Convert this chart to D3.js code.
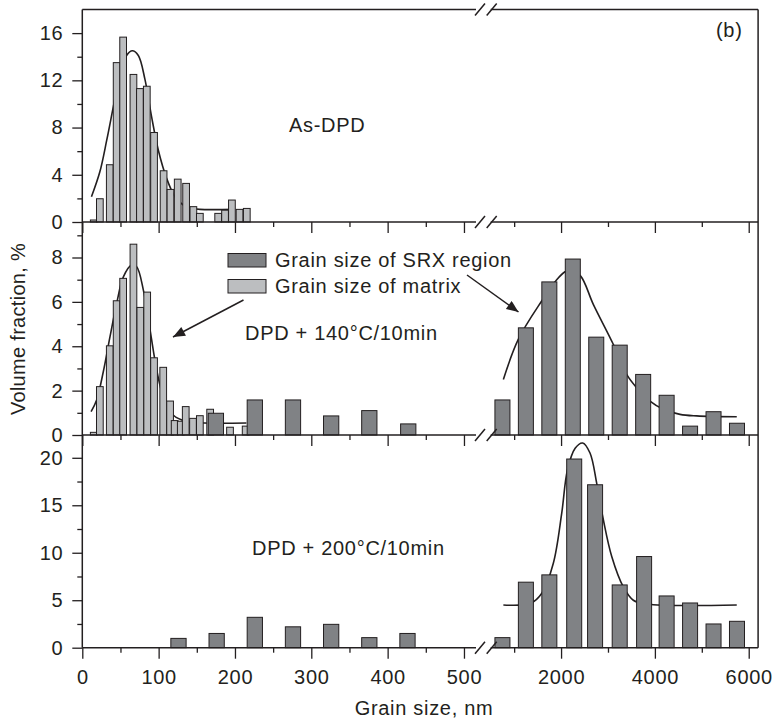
<!DOCTYPE html>
<html>
<head>
<meta charset="utf-8">
<script src="https://cdnjs.cloudflare.com/ajax/libs/d3/7.8.5/d3.min.js"></script>
<style>
	body { margin: 0; background: #fff; }
	svg text { font-family: "Liberation Sans", Arial, Helvetica, sans-serif; fill: #231f20; font-size: 20px; letter-spacing: 0.7px; }
	.axis path { display: none; }
	.axis line { stroke: #231f20; stroke-width: 1.3px; }
	.frame { stroke: #231f20; stroke-width: 1.5px; fill: none; }
	.fit { stroke: #231f20; stroke-width: 1.6px; fill: none; }
	.matrix { fill: #bcbec0; stroke: #231f20; stroke-width: 1px; }
	.srx { fill: #808285; stroke: #231f20; stroke-width: 1px; }
</style>
</head>
<body>
<script>

// ---- data ----

// x tick labels (broken axis)
var xTicksLeft = [0, 100, 200, 300, 400, 500];
var xMinorLeft = [50, 150, 250, 350, 450];
var xTicksRight = [2000, 4000, 6000];
var xMinorRight = [1000, 3000, 5000];

// As-DPD : matrix grains
var asMatrixSize = [15, 23, 36, 45, 53.5, 67, 75.5, 84.5, 94, 106.5, 115.5, 125, 136, 145.5, 154, 178, 187, 196, 206, 215.5];
var asMatrixFrac = [0.17, 1.97, 4.85, 13.5, 15.66, 12.5, 11.3, 11.5, 7.58, 4.34, 2.76, 3.63, 3.27, 1.3, 0.73, 0.73, 1.0, 1.86, 1.07, 1.15];
var asFitSize = [12, 23, 32, 40.6, 49.3, 58, 65.5, 73.4, 82, 90.8, 99.6, 110.5, 121.4, 132.3, 145.4, 154, 200];
var asFitFrac = [2.14, 4.25, 6.93, 9.75, 12.56, 14.1, 14.5, 14.1, 12.1, 8.9, 6.08, 3.69, 2.14, 1.44, 1.15, 1.07, 1.07];

// DPD + 140C/10min
var d140MatrixSize = [15, 23, 36, 45, 53.5, 67, 76, 85, 94, 106, 115, 121, 129, 135.5, 145, 154, 167.5, 193.5, 214];
var d140MatrixFrac = [0.12, 2.18, 4.02, 6.05, 7.06, 8.6, 5.75, 6.44, 3.48, 3.05, 1.53, 0.65, 0.62, 1.28, 0.75, 0.87, 1.16, 0.35, 0.4];
var d140SrxSizeL = [175, 226, 276, 326, 376, 427];
var d140SrxFracL = [0.98, 1.58, 1.58, 0.86, 1.1, 0.5];
var d140SrxSizeR = [750, 1250, 1750, 2250, 2750, 3250, 3750, 4250, 4750, 5250, 5750];
var d140SrxFracR = [1.58, 4.83, 6.9, 7.93, 4.41, 4.05, 2.73, 1.79, 0.4, 1.05, 0.53];
var d140FitSizeL = [11.5, 18.8, 27.5, 36.3, 45, 53.8, 64.7, 71.2, 80, 88.8, 97.5, 106, 119, 137, 160, 215];
var d140FitFracL = [1.05, 1.58, 2.85, 4.43, 5.93, 7.13, 7.66, 7.58, 6.53, 4.73, 2.93, 1.73, 0.9, 0.6, 0.54, 0.54];
var d140FitSizeR = [770, 1088, 1587, 1907, 2083, 2200, 2418, 2687, 3113, 3398, 3611, 3895, 4180, 4535, 4890, 5745];
var d140FitFracR = [2.5, 4.31, 6.04, 7.0, 7.36, 7.45, 7.16, 5.89, 4.09, 2.73, 2.13, 1.53, 1.16, 0.93, 0.86, 0.82];

// DPD + 200C/10min
var d200SrxSizeL = [126, 176, 226, 276, 326, 376, 426];
var d200SrxFracL = [0.98, 1.5, 3.2, 2.2, 2.46, 1.06, 1.5];
var d200SrxSizeR = [750, 1250, 1750, 2280, 2725, 3250, 3770, 4250, 4750, 5250, 5750];
var d200SrxFracR = [1.06, 6.9, 7.67, 19.87, 17.16, 6.61, 9.6, 5.45, 4.71, 2.5, 2.78];
var d200FitSizeR = [770, 1350, 1590, 1835, 2015, 2135, 2300, 2460, 2617, 2760, 2900, 3080, 3327, 3540, 3826, 5745];
var d200FitFracR = [4.5, 4.68, 5.74, 8.9, 14.2, 18.7, 21.0, 21.56, 20.5, 17.3, 13.5, 9.6, 6.4, 5.0, 4.6, 4.5];

// bin widths in nm as drawn
var matrixBin = 8.8, srxBinL = 20, srxBinR = 320;

function pairs(xs, ys) {
	return xs.map(function(v, i) { return [v, ys[i]]; });
}

// ---- layout ----
var W = 778, H = 721;
var svg = d3.select("body").append("svg")
	.attr("width", W)
	.attr("height", H);

svg.append("defs").append("marker")
	.attr("id", "head")
	.attr("markerUnits", "userSpaceOnUse")
	.attr("viewBox", "0 0 12 10")
	.attr("refX", 12).attr("refY", 5)
	.attr("markerWidth", 13).attr("markerHeight", 10)
	.attr("orient", "auto")
	.append("path")
	.attr("d", "M0,0 L12,5 L0,10 Z")
	.attr("fill", "#231f20");

// broken x scale
var xl = d3.scaleLinear().domain([0, 521]).range([82.3, 480]);
var xr = d3.scaleLinear().domain([500, 6200]).range([490.7, 758.1]);

var panels = [
	{ y: d3.scaleLinear().domain([0, 18]).range([222, 9.5]), major: [0, 4, 8, 12, 16], minor: [2, 6, 10, 14],
	  matrix: pairs(asMatrixSize, asMatrixFrac), srxL: [], srxR: [],
	  fitL: pairs(asFitSize, asFitFrac), fitR: null, labels: false },
	{ y: d3.scaleLinear().domain([0, 9.6]).range([435, 222]), major: [0, 2, 4, 6, 8], minor: [1, 3, 5, 7, 9],
	  matrix: pairs(d140MatrixSize, d140MatrixFrac), srxL: pairs(d140SrxSizeL, d140SrxFracL), srxR: pairs(d140SrxSizeR, d140SrxFracR),
	  fitL: pairs(d140FitSizeL, d140FitFracL), fitR: pairs(d140FitSizeR, d140FitFracR), labels: false },
	{ y: d3.scaleLinear().domain([0, 22.4]).range([647.7, 435]), major: [0, 5, 10, 15, 20], minor: [2.5, 7.5, 12.5, 17.5],
	  matrix: [], srxL: pairs(d200SrxSizeL, d200SrxFracL), srxR: pairs(d200SrxSizeR, d200SrxFracR),
	  fitL: null, fitR: pairs(d200FitSizeR, d200FitFracR), labels: true }
];

panels.forEach(function(p) {
	var g = svg.append("g");
	var y = p.y;

	// fitted curves (behind bars)
	if (p.fitL) {
		g.append("path").attr("class", "fit")
			.attr("d", d3.line().x(function(d) { return xl(d[0]); }).y(function(d) { return y(d[1]); })
				.curve(d3.curveCatmullRom.alpha(0.5))(p.fitL));
	}
	if (p.fitR) {
		g.append("path").attr("class", "fit")
			.attr("d", d3.line().x(function(d) { return xr(d[0]); }).y(function(d) { return y(d[1]); })
				.curve(d3.curveCatmullRom.alpha(0.5))(p.fitR));
	}

	// matrix bars
	g.selectAll("rect.matrix").data(p.matrix).enter().append("rect")
		.attr("class", "matrix")
		.attr("x", function(d) { return xl(d[0] - matrixBin / 2); })
		.attr("width", function(d) { return xl(d[0] + matrixBin / 2) - xl(d[0] - matrixBin / 2); })
		.attr("y", function(d) { return y(d[1]); })
		.attr("height", function(d) { return y(0) - y(d[1]); });

	// SRX bars, left and right of break
	g.selectAll("rect.srxl").data(p.srxL).enter().append("rect")
		.attr("class", "srx")
		.attr("x", function(d) { return xl(d[0] - srxBinL / 2); })
		.attr("width", function(d) { return xl(d[0] + srxBinL / 2) - xl(d[0] - srxBinL / 2); })
		.attr("y", function(d) { return y(d[1]); })
		.attr("height", function(d) { return y(0) - y(d[1]); });

	g.selectAll("rect.srxr").data(p.srxR).enter().append("rect")
		.attr("class", "srx")
		.attr("x", function(d) { return xr(d[0] - srxBinR / 2); })
		.attr("width", function(d) { return xr(d[0] + srxBinR / 2) - xr(d[0] - srxBinR / 2); })
		.attr("y", function(d) { return y(d[1]); })
		.attr("height", function(d) { return y(0) - y(d[1]); });

	// y axis
	g.append("g").attr("class", "axis")
		.attr("transform", "translate(" + xl(0) + ",0)")
		.call(d3.axisLeft(y).tickValues(p.major).tickSize(10).tickPadding(9));
	g.append("g").attr("class", "axis")
		.attr("transform", "translate(" + xl(0) + ",0)")
		.call(d3.axisLeft(y).tickValues(p.minor).tickSize(5).tickFormat(""));

	// x ticks at the bottom of each panel
	var base = y(0);
	g.append("g").attr("class", "axis")
		.attr("transform", "translate(0," + base + ")")
		.call(d3.axisBottom(xl).tickValues(xTicksLeft).tickSize(11).tickPadding(11)
			.tickFormat(p.labels ? d3.format("d") : ""));
	g.append("g").attr("class", "axis")
		.attr("transform", "translate(0," + base + ")")
		.call(d3.axisBottom(xl).tickValues(xMinorLeft).tickSize(5).tickFormat(""));
	g.append("g").attr("class", "axis")
		.attr("transform", "translate(0," + base + ")")
		.call(d3.axisBottom(xr).tickValues(xTicksRight).tickSize(11).tickPadding(11)
			.tickFormat(p.labels ? d3.format("d") : ""));
	g.append("g").attr("class", "axis")
		.attr("transform", "translate(0," + base + ")")
		.call(d3.axisBottom(xr).tickValues(xMinorRight).tickSize(5).tickFormat(""));
});

// frame with axis breaks
var hLines = [panels[0].y.range()[1], panels[0].y(0), panels[1].y(0), panels[2].y(0)];
var bl = xl.range()[1], br = xr.range()[0];
hLines.forEach(function(yy) {
	svg.append("line").attr("class", "frame").attr("x1", xl(0)).attr("x2", bl - 4).attr("y1", yy).attr("y2", yy);
	svg.append("line").attr("class", "frame").attr("x1", br).attr("x2", xr(6200)).attr("y1", yy).attr("y2", yy);
	[bl, br + 1].forEach(function(cx) {
		svg.append("line").attr("class", "frame")
			.attr("stroke-width", 1.2)
			.attr("x1", cx - 5).attr("y1", yy + 6)
			.attr("x2", cx + 5).attr("y2", yy - 6);
	});
});
svg.append("line").attr("class", "frame")
	.attr("x1", xl(0)).attr("x2", xl(0))
	.attr("y1", hLines[0]).attr("y2", hLines[3]);
svg.append("line").attr("class", "frame")
	.attr("x1", xr(6200)).attr("x2", xr(6200))
	.attr("y1", hLines[0]).attr("y2", hLines[3]);

// axis titles
svg.append("text")
	.attr("x", 424).attr("y", 715)
	.attr("text-anchor", "middle")
	.text("Grain size, nm");

svg.append("text")
	.attr("transform", "translate(25,329) rotate(-90)")
	.attr("text-anchor", "middle")
	.style("letter-spacing", "0.3px")
	.text("Volume fraction, %");

// panel annotations
svg.append("text").attr("x", 716).attr("y", 37).text("(b)");
svg.append("text").attr("x", 289).attr("y", 132).text("As-DPD");
svg.append("text").attr("x", 245).attr("y", 340).text("DPD + 140°C/10min");
svg.append("text").attr("x", 252).attr("y", 555).text("DPD + 200°C/10min");

// legend
svg.append("rect").attr("class", "srx").attr("x", 228).attr("y", 253.5).attr("width", 38).attr("height", 13.5);
svg.append("rect").attr("class", "matrix").attr("x", 228).attr("y", 279.5).attr("width", 38).attr("height", 13.5);
svg.append("text").attr("x", 275).attr("y", 267).text("Grain size of SRX region");
svg.append("text").attr("x", 275).attr("y", 293).text("Grain size of matrix");

// arrows
svg.append("line").attr("class", "frame").attr("stroke-width", 1.3)
	.attr("x1", 243.5).attr("y1", 300).attr("x2", 173).attr("y2", 337)
	.attr("marker-end", "url(#head)");
svg.append("line").attr("class", "frame").attr("stroke-width", 1.3)
	.attr("x1", 467).attr("y1", 275).attr("x2", 518.5).attr("y2", 312)
	.attr("marker-end", "url(#head)");

</script>
</body>
</html>
